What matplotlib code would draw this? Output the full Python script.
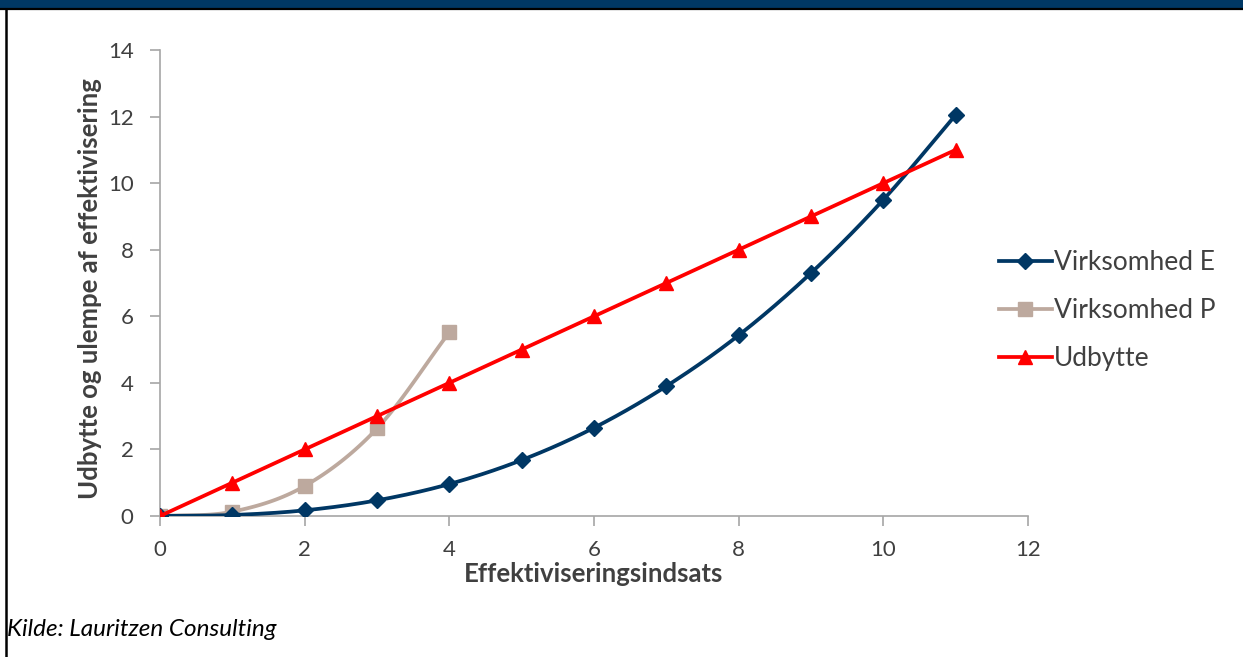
import numpy as np
import matplotlib.pyplot as plt
from matplotlib.lines import Line2D

# data
x_e = [0, 1, 2, 3, 4, 5, 6, 7, 8, 9, 10, 11]
virk_e = [0, 0.03, 0.17, 0.47, 0.96, 1.68, 2.65, 3.9, 5.43, 7.3, 9.5, 12.05]
x_p = [0, 1, 2, 3, 4]
virk_p = [0, 0.13, 0.9, 2.63, 5.52]
x_u = [0, 1, 2, 3, 4, 5, 6, 7, 8, 9, 10, 11]
udbytte = [0, 1, 2, 3, 4, 5, 6, 7, 8, 9, 10, 11]

navy = '#003764'
tan = '#BDA99E'
red = '#FF0000'
grey = '#A6A6A6'
text_col = '#404040'

plt.rcParams['font.family'] = ['Lato', 'DejaVu Sans']


def smooth(xs, ys, n=20):
    # Catmull-Rom path through the points, like a smoothed line in a spreadsheet
    xs = np.asarray(xs, float)
    ys = np.asarray(ys, float)
    pts = np.column_stack([xs, ys])
    pts = np.vstack([pts[0] - (pts[1] - pts[0]), pts, pts[-1] + (pts[-1] - pts[-2])])
    out = []
    t = np.linspace(0, 1, n, endpoint=False)[:, None]
    for i in range(1, len(pts) - 2):
        p0, p1, p2, p3 = pts[i - 1], pts[i], pts[i + 1], pts[i + 2]
        seg = 0.5 * ((2 * p1) + (-p0 + p2) * t + (2 * p0 - 5 * p1 + 4 * p2 - p3) * t ** 2
                     + (-p0 + 3 * p1 - 3 * p2 + p3) * t ** 3)
        out.append(seg)
    out.append(pts[-2][None, :])
    out = np.vstack(out)
    return out[:, 0], out[:, 1]


fig = plt.figure(figsize=(12.43, 6.57), dpi=100)

# header bar and frame
fig.patches.append(plt.Rectangle((0, 1 - 8 / 657), 1, 8 / 657, transform=fig.transFigure,
                                 facecolor='#003865', edgecolor='none', zorder=0))
fig.add_artist(Line2D([0, 1], [1 - 8.5 / 657] * 2, transform=fig.transFigure, color='black', lw=1.6))
fig.add_artist(Line2D([6 / 1243] * 2, [0, 1 - 8.5 / 657], transform=fig.transFigure, color='black', lw=1.8))

ax = fig.add_axes([160 / 1243, 141 / 657, 868 / 1243, 466 / 657])

sx, sy = smooth(x_e, virk_e)
ax.plot(sx, sy, color=navy, lw=2.7, zorder=3)
ax.plot(x_e, virk_e, ls='none', marker='D', ms=8, color=navy, zorder=3)

sx, sy = smooth(x_p, virk_p)
ax.plot(sx, sy, color=tan, lw=2.7, zorder=2)
ax.plot(x_p, virk_p, ls='none', marker='s', ms=9.5, color=tan, zorder=2)

ax.plot(x_u, udbytte, color=red, lw=2.7, marker='^', ms=10.5, zorder=4)

ax.set_xlim(0, 12)
ax.set_ylim(0, 14)
ax.set_xticks(range(0, 13, 2))
ax.set_yticks(range(0, 15, 2))
for s in ['top', 'right']:
    ax.spines[s].set_visible(False)
for s in ['left', 'bottom']:
    ax.spines[s].set_color(grey)
    ax.spines[s].set_linewidth(1.2)
ax.tick_params(colors=grey, labelcolor=text_col, labelsize=16, length=7, width=1.2, direction='out')
ax.tick_params(axis='x', pad=10)
ax.tick_params(axis='y', pad=12)

ax.set_xlabel('Effektiviseringsindsats', fontsize=18.5, fontweight='bold', color=text_col, labelpad=2)
ax.set_ylabel('Udbytte og ulempe af effektivisering', fontsize=18.5, fontweight='bold', color=text_col)
ax.yaxis.set_label_coords(-0.067, 0.488)

handles = [
    Line2D([], [], color=navy, lw=2.7, marker='D', ms=8),
    Line2D([], [], color=tan, lw=2.7, marker='s', ms=9.5),
    Line2D([], [], color=red, lw=2.7, marker='^', ms=10.5),
]
leg = fig.legend(handles, ['Virksomhed E', 'Virksomhed P', 'Udbytte'], loc='upper left',
                 bbox_to_anchor=(975 / 1243, 1 - 226 / 657), frameon=False, fontsize=19,
                 handlelength=2.0, handletextpad=0.1, labelspacing=0.88, labelcolor=text_col)

fig.text(7 / 1243, 1 - 630 / 657, 'Kilde: Lauritzen Consulting', fontsize=17.5, style='italic',
         color='black', va='center', ha='left')

fig.savefig('out.png', dpi=100)
